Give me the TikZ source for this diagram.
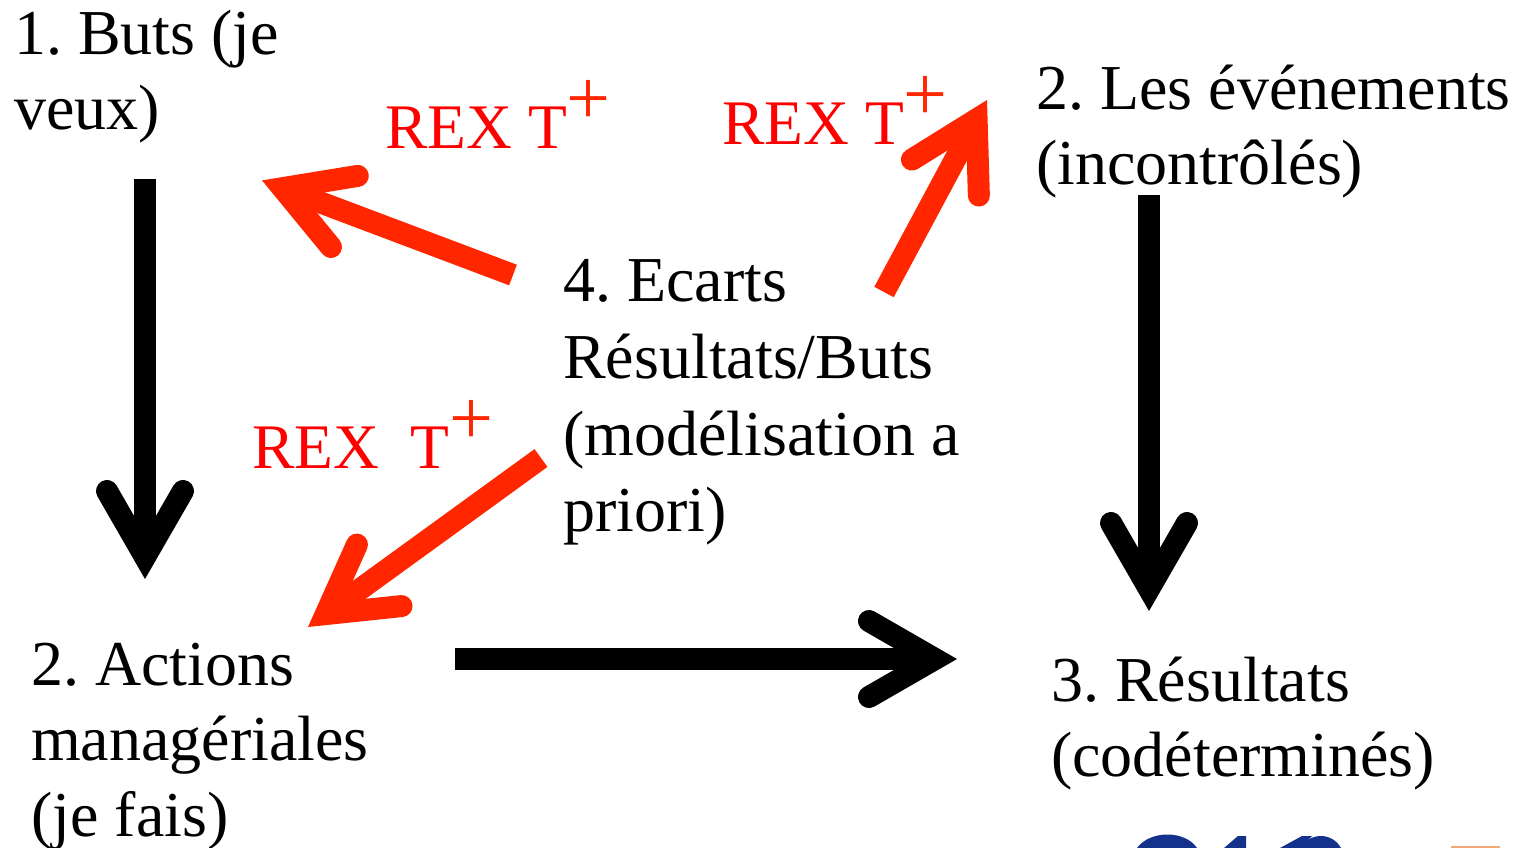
\documentclass[tikz,border=0pt]{standalone}
\usepackage{fontspec}
\setmainfont{Liberation Serif}
\usepackage{tikz}
\usetikzlibrary{arrows.meta}
\frenchspacing
\definecolor{colorrex}{RGB}{255,0,0}
\definecolor{colorarrow}{RGB}{255,38,0}
\definecolor{colorlogo}{RGB}{20,50,140}
\definecolor{colorlogob}{RGB}{240,170,120}
\newcommand{\rexplus}{\raisebox{24pt}{\fontsize{78}{78}\selectfont\textcolor{colorarrow}{+}}}

\begin{document}
\begin{tikzpicture}[
    x=1pt, y=-1pt,
    font={\fontsize{64}{75.5}\selectfont},
    concept/.style={anchor=north west,inner sep=0pt,align=left},
    rex/.style={anchor=base west,inner sep=0pt,text=colorrex,font={\fontsize{63.5}{76}\selectfont}},
    relation/.style={line width=22pt,-{Straight Barb[length=66pt,width=76pt,line width=22pt,line cap=round,line join=miter]}},
]
    \useasboundingbox (0,0) rectangle (1517,848);

    % Concepts
    \node[concept] (buts) at (14,1) {\strut 1. Buts (je\\veux)\strut};
    \node[concept] (evenements) at (1036,56) {\strut 2. Les événements\\(incontrôlés)\strut};
    \node[concept,font={\fontsize{64}{76.6}\selectfont}] (ecarts) at (563,248) {\strut 4. Ecarts\\Résultats/Buts\\(modélisation a\\priori)\strut};
    \node[concept] (actions) at (31,632) {\strut 2. Actions\\managériales\\(je fais)\strut};
    \node[concept] (resultats) at (1051,648) {\strut 3. Résultats\\(codéterminés)\strut};

    % Labels
    \node[rex] (rexbuts) at (385,148) {REX T\rexplus};
    \node[rex] (rexevenements) at (722,144) {REX T\rexplus};
    \node[rex] (rexactions) at (252,468) {REX\ \ T\rexplus};

    % Concept relations
    \draw[relation] ([shift={(131,27)}]buts.south west) -- ([shift={(114,-53)}]actions.north west);
    \draw[relation] ([shift={(113,-12)}]evenements.south west) -- ([shift={(98,-37)}]resultats.north west);
    \draw[relation] ([shift={(424,27)}]actions.north west) -- ([shift={(-94,11)}]resultats.north west);

    \draw[relation,colorarrow] ([shift={(-50,27)}]ecarts.north west) -- ([shift={(248,28)}]buts.south west);
    \draw[relation,colorarrow] ([shift={(321,44)}]ecarts.north west) -- ([shift={(-49,44)}]evenements.north west);
    \draw[relation,colorarrow] ([shift={(-22,210)}]ecarts.north west) -- ([shift={(277,-5)}]actions.north west);

    % Logo, cut by the page
    \fill[colorlogo] (1137,848) .. controls (1150,830) and (1185,830) .. (1197,848) -- cycle;
    \fill[colorlogo] (1224,848) -- (1238,836) -- (1246,836) -- (1246,848) -- cycle;
    \fill[colorlogo] (1280,848) -- (1302,836) -- (1312,836) -- (1300,848) -- cycle;
    \fill[colorlogo] (1300,848) .. controls (1310,832) and (1332,832) .. (1341,848) -- cycle;
    \fill[colorlogob] (1451,846) rectangle (1500,848);
\end{tikzpicture}
\end{document}
